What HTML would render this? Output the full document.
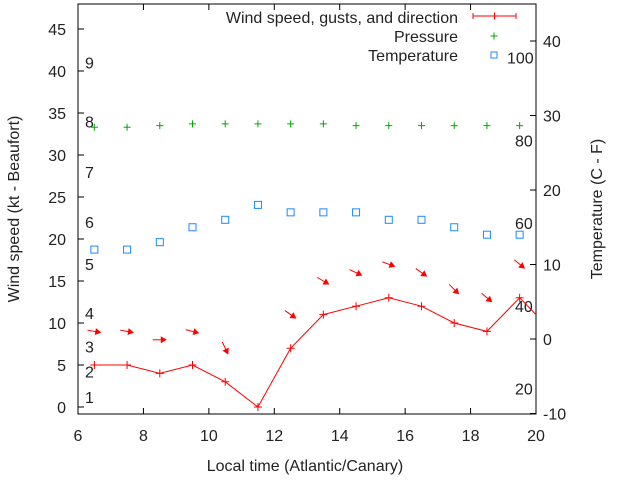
<!DOCTYPE html>
<html><head><meta charset="utf-8"><style>
body{margin:0;background:#fff;width:640px;height:480px;overflow:hidden}
svg text{font-family:"Liberation Sans",sans-serif;font-size:16px;fill:#222}
</style></head><body>
<svg id="c" width="640" height="480" xmlns="http://www.w3.org/2000/svg"></svg>
<script>
const times=[6.5,7.5,8.5,9.5,10.5,11.5,12.5,13.5,14.5,15.5,16.5,17.5,18.5,19.5,20.5];
const wind=[5,5,4,5,3,0,7,11,12,13,12,10,9,13,9];
const dirDeg=[10,10,0,15,65,null,35,30,25,20,35,45,40,40];
const pressure=[33.3,33.3,33.5,33.7,33.7,33.7,33.7,33.7,33.5,33.5,33.5,33.5,33.5,33.5];
const temperature=[12,12,13,15,16,18,17,17,17,16,16,15,14,14];
const xTicks=[6,8,10,12,14,16,18,20];
const yTicks=[0,5,10,15,20,25,30,35,40,45];
const y2Ticks=[-10,0,10,20,30,40];
const beaufort=[1,2,3,4,5,6,7,8,9];
const beaufortY=[1.2,4.2,7.2,11.2,17,22,28,34,41];
const fahr=[20,40,60,80,100];

const L=78,R=536,T=4,B=414;
const x=v=>L+(v-6)*(R-L)/14;
const y=v=>407-v*8.4;
const y2=v=>339-v*7.45;
const svg=document.getElementById('c');
const NS='http://www.w3.org/2000/svg';
function mk(tag,at,parent){const e=document.createElementNS(NS,tag);for(const k in at)e.setAttribute(k,at[k]);(parent||svg).appendChild(e);return e;}
function txt(s,at){const e=mk('text',at);e.textContent=s;return e;}

const frame=mk('rect',{x:L,y:T,width:R-L,height:B-T,fill:'none',stroke:'#000','stroke-width':1});


const clip=mk('clipPath',{id:'cp'});mk('rect',{x:L,y:T,width:R-L,height:B-T},clip);

xTicks.forEach(t=>{
  mk('line',{x1:x(t),x2:x(t),y1:B,y2:B-6,stroke:'#000'});
  mk('line',{x1:x(t),x2:x(t),y1:T,y2:T+6,stroke:'#000'});
  const e=txt(t,{x:x(t),y:B+27,'text-anchor':'middle'});
  
  
});
yTicks.forEach(t=>{
  mk('line',{x1:L,x2:L+6,y1:y(t),y2:y(t),stroke:'#000'});
  const e=txt(t,{x:L-12,y:y(t)+6,'text-anchor':'end'});
  
  
});
y2Ticks.forEach(t=>{
  mk('line',{x1:R,x2:R-6,y1:y2(t),y2:y2(t),stroke:'#000'});
  const e=txt(t,{x:R+7,y:y2(t)+6});
  
  
});
beaufort.forEach((b,i)=>{
  const e=txt(b,{x:85,y:y(beaufortY[i])+6});
  
  
});
fahr.forEach(f=>{
  const c=(f-32)*5/9;
  const e=txt(f,{x:f==100?507:515,y:y2(c)+6});
  
  
});

let e=txt('Local time (Atlantic/Canary)',{x:305,y:471,'text-anchor':'middle'});

e=txt('Wind speed (kt - Beaufort)',{x:0,y:0,'text-anchor':'middle',transform:'translate(19,209) rotate(-90)'});

e=txt('Temperature (C - F)',{x:0,y:0,'text-anchor':'middle',transform:'translate(602,209) rotate(-90)'});


const g=mk('g',{'clip-path':'url(#cp)'});
const pts=wind.map((w,i)=>x(times[i])+','+y(w)).join(' ');
const pl=mk('polyline',{points:pts,fill:'none',stroke:'#f00','stroke-width':1},g);


wind.forEach((w,i)=>{
  const px=x(times[i]),py=y(w);
  const p=mk('path',{d:`M${px-4},${py}h8M${px},${py-4}v8`,stroke:'#f00'},g);
  
  
});
dirDeg.forEach((d,i)=>{
  if(d===null)return;
  const cx=x(times[i]),cy=y(wind[i]+4);
  const a=mk('g',{transform:`translate(${cx},${cy}) rotate(${d})`},g);
  
  
  mk('line',{x1:-7,y1:0,x2:3,y2:0,stroke:'#f00','stroke-width':1},a);
  mk('polygon',{points:'7,0 1,-3.5 1,3.5',fill:'#f00'},a);
});
pressure.forEach((p,i)=>{
  const px=x(times[i]),py=y(p);
  const m=mk('path',{d:`M${px-3.5},${py}h7M${px},${py-3.5}v7`,stroke:'#0a0'},g);
  
  
});
temperature.forEach((t,i)=>{
  const m=mk('rect',{x:x(times[i])-3.5,y:y2(t)-3.5,width:7,height:7,fill:'none',stroke:'#1e88ff','stroke-width':1},g);
  
  
});

const lg=mk('g',{});


[['Wind speed, gusts, and direction',17],['Pressure',36],['Temperature',55]].forEach(([s,yy])=>{
  const t=txt(s,{x:458,y:yy+6,'text-anchor':'end'});lg.appendChild(t);
  
  
});
mk('path',{d:'M473,16h43M473,13v6M516,13v6M494.5,12.5v7',stroke:'#f00'},lg);
mk('path',{d:'M490.5,36h7M494,32.5v7',stroke:'#0a0'},lg);
mk('rect',{x:491,y:52,width:6,height:6,fill:'none',stroke:'#1e88ff'},lg);
</script>
</body></html>
